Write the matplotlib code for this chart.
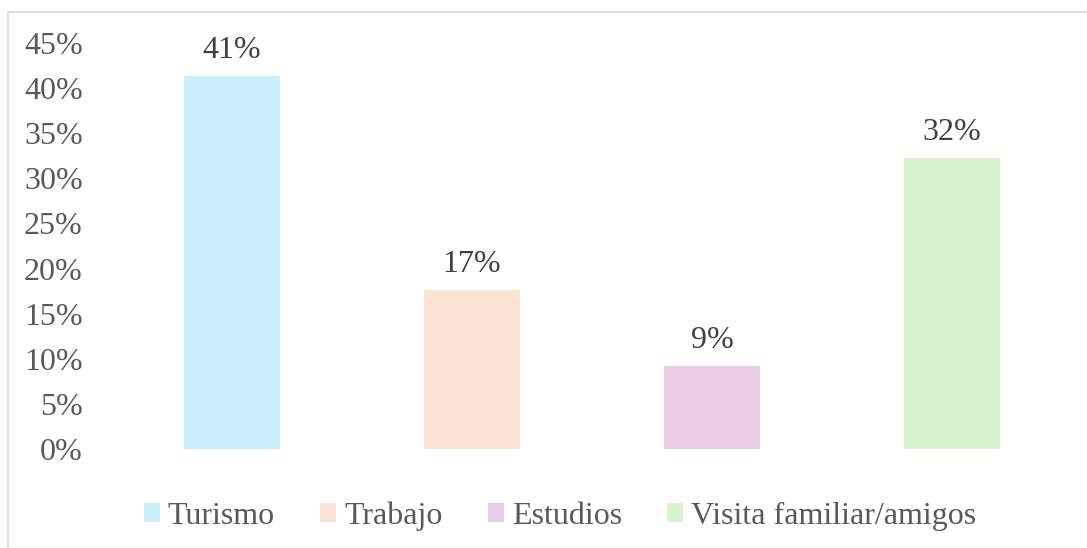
import matplotlib
matplotlib.use("Agg")
import matplotlib.pyplot as plt
from matplotlib.patches import Rectangle, Patch

categories = ["Turismo", "Trabajo", "Estudios", "Visita familiar/amigos"]
values = [0.413, 0.176, 0.092, 0.323]
labels = ["41%", "17%", "9%", "32%"]
colors = ["#CCEEFB", "#FBE2D5", "#EBCCE6", "#D9F2D0"]
yticks = [0, 0.05, 0.10, 0.15, 0.20, 0.25, 0.30, 0.35, 0.40, 0.45]
ytick_labels = ["0%", "5%", "10%", "15%", "20%", "25%", "30%", "35%", "40%", "45%"]

plt.rcParams['font.family'] = ['Liberation Serif', 'DejaVu Serif']
txt = "#595959"
FS = 23

W, H = 1087, 548
fig = plt.figure(figsize=(W / 100, H / 100), dpi=100)
fig.patches.append(Rectangle((8 / W, -0.1), 1.2, 1 - 12 / H + 0.1, transform=fig.transFigure,
                             fill=False, edgecolor="#D9D9D9", linewidth=1.2))

ax = fig.add_axes([112 / W, 1 - 449 / H, (1072 - 112) / W, (449 - 43) / H])
x = list(range(len(categories)))
bars = ax.bar(x, values, width=0.4, color=colors)
for xi, v, lab in zip(x, values, labels):
    ax.annotate(lab, (xi, v), xytext=(0, 13), textcoords="offset points",
                ha="center", va="baseline", fontsize=FS, color="#404040")

ax.set_xlim(-0.5, 3.5)
ax.set_ylim(0, 0.45)
ax.set_yticks(yticks)
ax.set_yticklabels(ytick_labels, fontsize=FS, color=txt)
ax.tick_params(axis="y", length=0, pad=21)
ax.set_xticks([])
for s in ax.spines.values():
    s.set_visible(False)

handles = [Patch(facecolor=c, edgecolor="none") for c in colors]
fig.legend(handles, categories, loc="center", bbox_to_anchor=(560 / W, 1 - 516 / H),
           ncol=4, frameon=False, fontsize=FS, labelcolor=txt, borderpad=0, borderaxespad=0,
           handlelength=0.5, handleheight=0.5, handletextpad=0.25, columnspacing=1.42)

fig.savefig("out.png", dpi=100)
